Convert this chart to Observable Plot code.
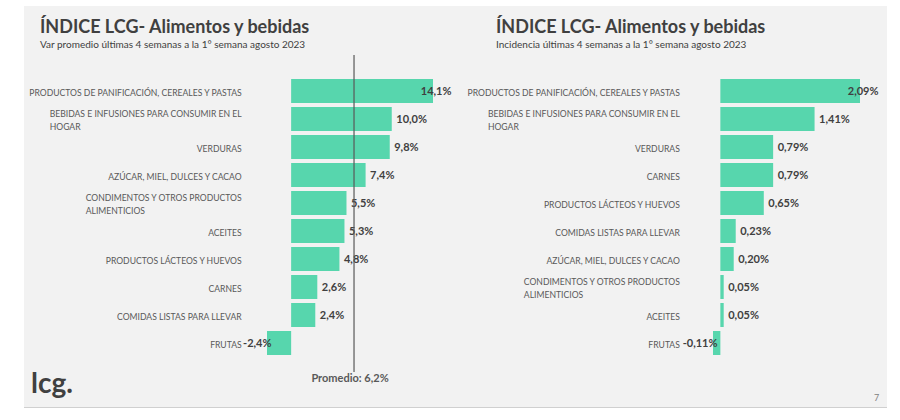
<!DOCTYPE html>
<html><head><meta charset="utf-8">
<script src="https://cdn.jsdelivr.net/npm/d3@7"></script>
<script src="https://cdn.jsdelivr.net/npm/@observablehq/plot@0.6"></script>
<style>
body{margin:0;background:#fff;font-family:Lato,sans-serif;}
#page{position:relative;width:900px;height:420px;overflow:hidden}
#panel{position:absolute;left:24px;top:6px;width:863px;height:401px;background:#f2f2f2;border-bottom:1px solid #d0d0d0}
.title{position:absolute;font-weight:700;font-size:18px;color:#404040;white-space:nowrap;line-height:1}
.sub{position:absolute;font-size:10px;color:#404040;white-space:nowrap;line-height:1}
.chart{position:absolute;top:45px}
#logo{position:absolute;left:31px;top:368px;font-size:28px;font-weight:700;color:#404040;line-height:1}
#pg{position:absolute;left:874px;top:392px;font-size:9px;color:#808080}
</style></head>
<body>
<div id="page">
  <div id="panel"></div>
  <div class="title" style="left:40px;top:17px">ÍNDICE LCG- Alimentos y bebidas</div>
  <div class="sub" style="left:40px;top:39px">Var promedio últimas 4 semanas a la 1° semana agosto 2023</div>
  <div class="title" style="left:496px;top:17px">ÍNDICE LCG- Alimentos y bebidas</div>
  <div class="sub" style="left:496px;top:39px">Incidencia últimas 4 semanas a la 1° semana agosto 2023</div>
  <div class="chart" id="left" style="left:0px"></div>
  <div class="chart" id="right" style="left:450px"></div>
  <div id="logo">lcg.</div>
  <div id="pg">7</div>
</div>
<script>
const categories = [
  "PRODUCTOS DE PANIFICACIÓN, CEREALES Y PASTAS",
  "BEBIDAS E INFUSIONES PARA CONSUMIR EN EL\nHOGAR",
  "VERDURAS",
  "AZÚCAR, MIEL, DULCES Y CACAO",
  "CONDIMENTOS Y OTROS PRODUCTOS\nALIMENTICIOS",
  "ACEITES",
  "PRODUCTOS LÁCTEOS Y HUEVOS",
  "CARNES",
  "COMIDAS LISTAS PARA LLEVAR",
  "FRUTAS"
];
const varPromedio = [14.1, 10.0, 9.8, 7.4, 5.5, 5.3, 4.8, 2.6, 2.4, -2.4];
const incidencia  = [2.09, 1.41, 0.79, 0.20, 0.05, 0.05, 0.65, 0.79, 0.23, -0.11];
const promedio = 6.2;

const BAR = "#57d6ad";
const fmt = (v, d) => v.toFixed(d).replace(".", ",") + "%";

function chart(vals, dec, o) {
  const data = categories.map((c, i) => ({cat: c, v: vals[i]}));
  const domain = d3.sort(data, d => -d.v).map(d => d.cat);
  const vmax = d3.max(vals);
  const lab = {y: "cat", x: "v", text: d => fmt(d.v, dec), fontSize: 11, fontWeight: "bold", fill: "#404040"};
  const marks = [
    Plot.barX(data, {x: "v", y: "cat", fill: BAR}),
    Plot.text(data, {x: 0, y: "cat", text: "cat", textAnchor: "end", dx: o.labelDx,
      fontSize: 8.6, fill: "#595959", lineHeight: 1.45}),
    Plot.text(data.filter(d => d.v >= 0 && d.v < vmax), {...lab, textAnchor: "start", dx: 4}),
    Plot.text(data.filter(d => d.v === vmax), {...lab, textAnchor: "end", dx: 18}),
    Plot.text(data.filter(d => d.v < 0), {...lab, textAnchor: "end", dx: 4})
  ];
  if (o.avg != null) {
    marks.push(Plot.ruleX([o.avg], {x: d => d, stroke: "#595959", strokeWidth: 1.2, insetTop: -20, insetBottom: -14}));
    marks.push(Plot.text([o.avg], {x: d => d, frameAnchor: "bottom", dy: 23, dx: -4,
      text: d => "Promedio: " + fmt(d, 1), fontSize: 11, fontWeight: "bold", fill: "#595959"}));
  }
  return Plot.plot({
    width: 450, height: 350,
    marginTop: 30, marginBottom: 37, marginLeft: o.ml, marginRight: o.mr,
    x: {domain: d3.extent(vals), axis: null},
    y: {domain, paddingInner: 0.15, paddingOuter: 0, axis: null},
    style: {background: "transparent", fontFamily: "Lato, sans-serif", overflow: "visible"},
    marks
  });
}

function fixWrapped(svg) {
  svg.querySelectorAll("text").forEach(t => {
    const spans = t.querySelectorAll("tspan");
    if (spans.length > 1) {
      const b = t.getBBox();
      t.setAttribute("text-anchor", "start");
      spans.forEach(s => s.setAttribute("x", b.x));
    }
  });
}

const L = chart(varPromedio, 1, {ml: 267, mr: 17, labelDx: -50, avg: promedio});
document.getElementById("left").append(L);
fixWrapped(L);
const R = chart(incidencia, 2, {ml: 263, mr: 40, labelDx: -41, avg: null});
document.getElementById("right").append(R);
fixWrapped(R);
</script>
</body></html>
